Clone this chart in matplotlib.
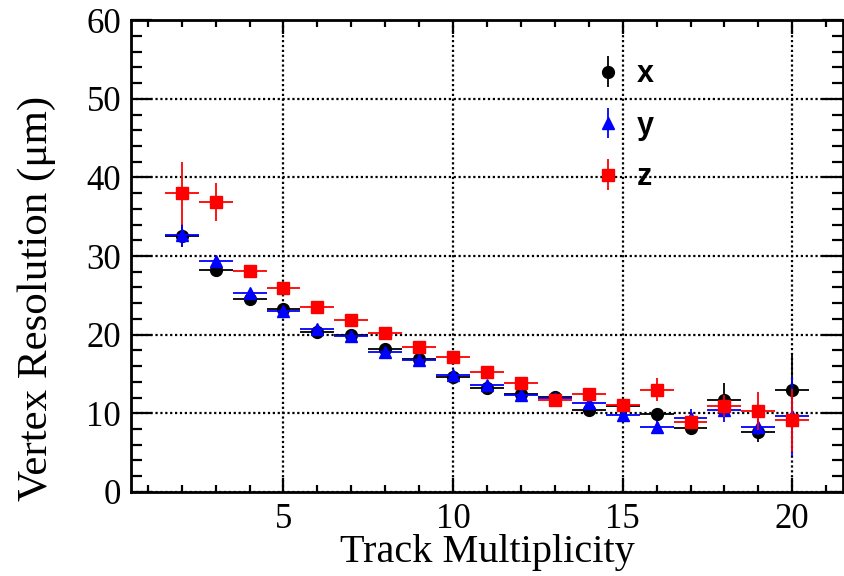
import numpy as np
import matplotlib.pyplot as plt
from matplotlib.ticker import MultipleLocator
from matplotlib.legend_handler import HandlerErrorbar
from matplotlib.container import ErrorbarContainer

# track multiplicity bins
mult = np.arange(2, 21)
bin_half = np.full(len(mult), 0.5)

# vertex resolution in x, y, z (um) and their errors
res_x = [32.6, 28.2, 24.5, 23.2, 20.3, 20.0, 18.2, 16.9, 14.6, 13.2, 12.4, 12.1, 10.4, 10.9, 9.9, 8.1, 11.7, 7.6, 13.0]
err_x = [1.4, 0.4, 0.4, 0.3, 0.3, 0.3, 0.3, 0.3, 0.4, 0.4, 0.4, 0.5, 0.6, 0.6, 0.8, 0.8, 2.2, 1.2, 4.5]
res_y = [32.7, 29.4, 25.3, 23.0, 20.7, 19.8, 17.8, 16.8, 14.9, 13.6, 12.3, 11.9, 11.3, 9.8, 8.3, 9.4, 10.4, 8.3, 9.6]
err_y = [1.4, 0.5, 0.4, 0.3, 0.3, 0.3, 0.3, 0.3, 0.4, 0.4, 0.4, 0.5, 0.6, 0.6, 0.7, 1.2, 1.5, 1.0, 5.0]
res_z = [38.0, 36.9, 28.1, 25.9, 23.5, 21.9, 20.2, 18.4, 17.1, 15.3, 13.8, 11.7, 12.4, 11.1, 13.0, 8.9, 10.9, 10.3, 9.1]
err_z = [4.0, 2.4, 0.6, 0.5, 0.4, 0.4, 0.4, 0.4, 0.4, 0.4, 0.4, 0.5, 0.6, 0.7, 1.5, 0.9, 1.4, 2.4, 4.0]

plt.rcParams['font.family'] = ['Liberation Serif', 'DejaVu Serif']

fig = plt.figure(figsize=(8.44, 5.76), dpi=100)
ax = fig.add_axes([0.155, 0.146, 0.844, 0.819])

ax.errorbar(mult, res_x, xerr=bin_half, yerr=err_x, fmt='o', color='black',
            ms=8.5, elinewidth=1.3, capsize=0, label='x', zorder=3)
ax.errorbar(mult, res_y, xerr=bin_half, yerr=err_y, fmt='^', color='blue',
            ms=8.5, elinewidth=1.3, capsize=0, label='y', zorder=4)
ax.errorbar(mult, res_z, xerr=bin_half, yerr=err_z, fmt='s', color='red',
            ms=9, elinewidth=1.3, capsize=0, label='z', zorder=5)

ax.set_xlim(0.5, 21.5)
ax.set_ylim(0, 60)
ax.xaxis.set_major_locator(MultipleLocator(5))
ax.xaxis.set_minor_locator(MultipleLocator(1))
ax.yaxis.set_major_locator(MultipleLocator(10))
ax.yaxis.set_minor_locator(MultipleLocator(2))

ax.grid(True, which='major', color='black', linestyle=(0, (1, 1.2)), linewidth=1.6, zorder=1)
ax.set_axisbelow(True)

ax.tick_params(axis='both', which='both', direction='in', top=True, right=True,
               width=1.6, labelsize=25)
ax.tick_params(axis='y', which='major', length=15, pad=7)
ax.tick_params(axis='y', which='minor', length=8)
ax.tick_params(axis='x', which='major', length=10, pad=8)
ax.tick_params(axis='x', which='minor', length=5)
for s in ax.spines.values():
    s.set_linewidth(2)

ax.set_xlabel('Track Multiplicity', fontsize=29)
ax.set_ylabel('Vertex Resolution (\u03bcm)', fontsize=31)
ax.xaxis.set_label_coords(0.5, -0.09)
ax.yaxis.set_label_coords(-0.105, 0.41)

leg = ax.legend(loc='upper left', bbox_to_anchor=(0.612, 0.975), frameon=False,
                handlelength=0.9, handletextpad=0.5, labelspacing=0.7,
                prop={'family': 'Liberation Sans', 'weight': 'bold', 'size': 22},
                handler_map={ErrorbarContainer: HandlerErrorbar(xerr_size=0, yerr_size=0.5)})

fig.savefig('out.png', dpi=100)
